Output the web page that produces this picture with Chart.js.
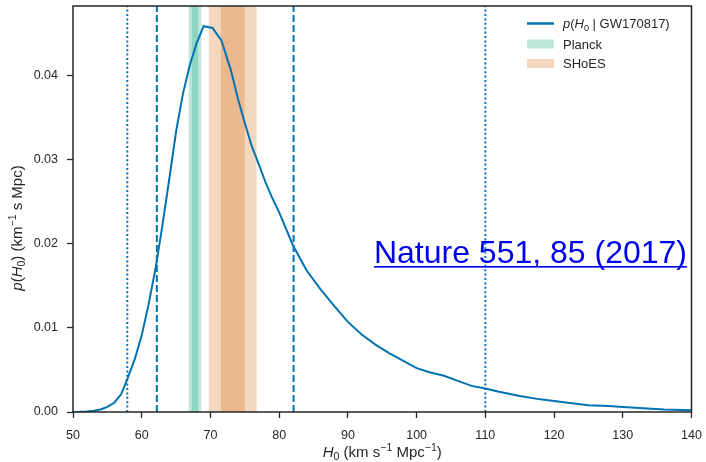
<!DOCTYPE html>
<html>
<head>
<meta charset="utf-8">
<title>p(H0 | GW170817)</title>
<script src="https://cdn.jsdelivr.net/npm/chart.js@4"></script>
<style>
  html, body { margin: 0; padding: 0; background: #ffffff; }
  #chart { display: block; }
</style>
</head>
<body>
<canvas id="chart" width="706" height="462"></canvas>
<script>
// Posterior of the Hubble constant from GW170817
const h0Grid = [50, 51, 52, 53, 54, 55, 56, 57, 58, 59, 60, 61, 62, 63, 64, 65, 66, 67, 68, 69,
  70.3, 71.6, 73, 74, 75, 76, 77, 78, 79, 80, 82, 84, 86, 88, 90, 92, 94, 96, 98, 100,
  102, 104, 106, 108, 110, 112, 115, 118, 120, 122, 125, 128, 130, 133, 136, 140];
const posterior = [0.0000, 0.00002, 0.00006, 0.00015, 0.0003, 0.0006, 0.0011, 0.0021, 0.0041, 0.0063,
  0.0091, 0.0128, 0.0170, 0.0221, 0.0276, 0.0333, 0.0378, 0.0412, 0.0438, 0.0458,
  0.0456, 0.0441, 0.0405, 0.0372, 0.0343, 0.0316, 0.0295, 0.0273, 0.0254, 0.0237,
  0.0198, 0.0168, 0.0146, 0.0126, 0.0107, 0.0092, 0.0080, 0.0070, 0.0061, 0.0052,
  0.0047, 0.0043, 0.0037, 0.0031, 0.0028, 0.0024, 0.0019, 0.0015, 0.0013, 0.0011,
  0.0008, 0.0007, 0.0006, 0.00045, 0.0003, 0.0002];

// Credible interval bounds (68.3% dashed, 95.4% dotted)
const interval68 = [62.2, 82.1];
const interval95 = [57.9, 110.0];

// External measurements: [mean, 1-sigma]
const planckH0 = [67.74, 0.46];
const shoesH0 = [73.24, 1.74];

// Axis ticks and ranges
const xTicks = [50, 60, 70, 80, 90, 100, 110, 120, 130, 140];
const yTicks = [0.00, 0.01, 0.02, 0.03, 0.04];
const xRange = [50, 140];
const yRange = [0, 0.0482];

const BLUE = '#0173b2';
const PLANCK_FILL = 'rgba(2, 158, 115, 0.25)';
const SHOES_FILL = 'rgba(213, 94, 0, 0.25)';
const INK = '#262626';
const FONT = '"Liberation Sans", Arial, Helvetica, sans-serif';
const FS = 12.5;     // tick labels
const FS_TITLE = 15; // axis titles
const FS_LEG = 13;   // legend

Chart.defaults.font.family = FONT;
Chart.defaults.font.size = FS;
Chart.defaults.color = INK;

// Text made of runs with italic / subscript / superscript pieces
function runFont(seg, size) {
  const s = (seg.sub || seg.sup) ? size * 0.7 : size;
  return (seg.it ? 'italic ' : '') + s + 'px ' + FONT;
}
function richWidth(ctx, segs, size) {
  let w = 0;
  segs.forEach(seg => { ctx.font = runFont(seg, size); w += ctx.measureText(seg.t).width; });
  return w;
}
function drawRich(ctx, segs, x, y, size, align) {
  const w = richWidth(ctx, segs, size);
  let cx = align === 'center' ? x - w / 2 : (align === 'right' ? x - w : x);
  ctx.textBaseline = 'alphabetic';
  ctx.textAlign = 'left';
  segs.forEach(seg => {
    ctx.font = runFont(seg, size);
    let dy = 0;
    if (seg.sub) dy = size * 0.22;
    if (seg.sup) dy = -size * 0.38;
    ctx.fillText(seg.t, cx, y + dy);
    cx += ctx.measureText(seg.t).width;
  });
}

const legendLabel = [{t: 'p', it: true}, {t: '('}, {t: 'H', it: true}, {t: '0', sub: true}, {t: ' | GW170817)'}];
const xTitle = [{t: 'H', it: true}, {t: '0', sub: true}, {t: ' (km s'}, {t: '\u22121', sup: true}, {t: ' Mpc'}, {t: '\u22121', sup: true}, {t: ')'}];
const yTitle = [{t: 'p', it: true}, {t: '('}, {t: 'H', it: true}, {t: '0', sub: true}, {t: ') (km'}, {t: '\u22121', sup: true}, {t: ' s Mpc)'}];
const citation = 'Nature 551, 85 (2017)';

const decorations = {
  id: 'decorations',
  beforeDatasetsDraw(chart) {
    const {ctx, chartArea: a, scales: {x}} = chart;
    ctx.save();
    [[planckH0, PLANCK_FILL], [shoesH0, SHOES_FILL]].forEach(([m, fill]) => {
      [2, 1].forEach(k => {
        const x0 = x.getPixelForValue(m[0] - k * m[1]);
        const x1 = x.getPixelForValue(m[0] + k * m[1]);
        ctx.fillStyle = fill;
        ctx.fillRect(x0, a.top, x1 - x0, a.bottom - a.top);
      });
    });
    ctx.restore();
  },
  afterDraw(chart) {
    const {ctx, chartArea: a} = chart;
    ctx.save();
    // axes frame
    ctx.strokeStyle = INK;
    ctx.lineWidth = 1.5;
    ctx.strokeRect(a.left, a.top, a.right - a.left, a.bottom - a.top);

    // legend
    const lx = 527, tx = 563;
    ctx.strokeStyle = BLUE;
    ctx.lineWidth = 2.5;
    ctx.beginPath(); ctx.moveTo(lx, 23.5); ctx.lineTo(lx + 27, 23.5); ctx.stroke();
    ctx.fillStyle = PLANCK_FILL; ctx.fillRect(lx, 39.5, 27, 9);
    ctx.fillStyle = SHOES_FILL; ctx.fillRect(lx, 59, 27, 9);
    ctx.fillStyle = INK;
    drawRich(ctx, legendLabel, tx, 28, FS_LEG, 'left');
    ctx.font = FS_LEG + 'px ' + FONT;
    ctx.fillText('Planck', tx, 48.5);
    ctx.fillText('SHoES', tx, 68);

    // axis titles
    drawRich(ctx, xTitle, (a.left + a.right) / 2, 457, FS_TITLE, 'center');
    ctx.translate(22, 228);
    ctx.rotate(-Math.PI / 2);
    drawRich(ctx, yTitle, 0, 0, FS_TITLE, 'center');
    ctx.restore();

    // citation
    ctx.save();
    ctx.font = '32px ' + FONT;
    ctx.fillStyle = '#0000ee';
    ctx.textAlign = 'right';
    ctx.textBaseline = 'alphabetic';
    const right = 687, base = 263;
    ctx.fillText(citation, right, base);
    const w = ctx.measureText(citation).width;
    ctx.fillRect(right - w, base + 3, w, 1.6);
    ctx.restore();
  }
};

const vline = (v, dash, order) => ({
  data: [{x: v, y: yRange[0]}, {x: v, y: yRange[1]}],
  borderColor: BLUE, borderWidth: 2, borderDash: dash,
  pointRadius: 0, fill: false, order: order
});

new Chart(document.getElementById('chart'), {
  type: 'line',
  data: {
    datasets: [
      {
        label: 'p(H0 | GW170817)',
        data: h0Grid.map((h, i) => ({x: h, y: posterior[i]})),
        borderColor: BLUE, borderWidth: 2, pointRadius: 0, tension: 0, fill: false, order: 0
      },
      vline(interval68[0], [7, 3], 1),
      vline(interval68[1], [7, 3], 1),
      vline(interval95[0], [2, 2.4], 1),
      vline(interval95[1], [2, 2.4], 1)
    ]
  },
  options: {
    responsive: false,
    animation: false,
    events: [],
    layout: {padding: {left: 0, top: 6, right: 14.5, bottom: 0}},
    plugins: {legend: {display: false}, tooltip: {enabled: false}, title: {display: false}},
    scales: {
      x: {
        type: 'linear', min: xRange[0], max: xRange[1],
        afterBuildTicks: s => { s.ticks = xTicks.map(v => ({value: v})); },
        afterFit: s => { s.height = 50; s.paddingLeft = 0; s.paddingRight = 0; },
        border: {display: false},
        grid: {drawOnChartArea: false, drawTicks: true, tickLength: 6, color: INK, tickWidth: 1.3},
        ticks: {padding: 10, color: INK, maxRotation: 0, callback: v => String(v)}
      },
      y: {
        type: 'linear', min: yRange[0], max: yRange[1],
        afterBuildTicks: s => { s.ticks = yTicks.map(v => ({value: v})); },
        afterFit: s => { s.width = 73; s.paddingTop = 0; s.paddingBottom = 0; },
        border: {display: false},
        grid: {drawOnChartArea: false, drawTicks: true, tickLength: 6, color: INK, tickWidth: 1.3},
        ticks: {padding: 9, color: INK, callback: v => Number(v).toFixed(2)}
      }
    }
  },
  plugins: [decorations]
});
</script>
</body>
</html>
